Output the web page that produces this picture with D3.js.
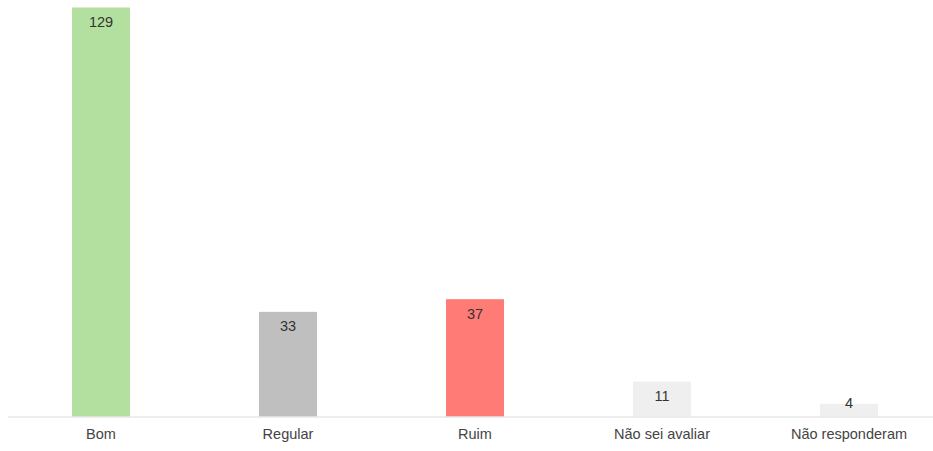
<!DOCTYPE html>
<html>
<head>
<meta charset="utf-8">
<script src="https://cdn.jsdelivr.net/npm/d3@7"></script>
<style>
  html, body { margin: 0; padding: 0; background: #fff; }
  svg { display: block; font-family: "Liberation Sans", Arial, Helvetica, sans-serif; }
</style>
</head>
<body>
<svg id="chart" width="933" height="451"></svg>
<script>
// Survey answers and counts
const categories = ["Bom", "Regular", "Ruim", "Não sei avaliar", "Não responderam"];
const counts = [129, 33, 37, 11, 4];
const barColors = ["#b4e09f", "#bfbfbf", "#ff7b76", "#efefef", "#efefef"];

const width = 933, height = 451;
const baseline = 416.5;
const fontSize = 14.5;

const svg = d3.select("#chart");

const x = d3.scaleBand()
  .domain(categories)
  .range([7.5, 942.5])
  .paddingInner(0.69)
  .paddingOuter(0.345);

const y = d3.scaleLinear()
  .domain([0, 129])
  .range([baseline, 7.5]);

const data = categories.map((c, i) => ({ cat: c, value: counts[i], color: barColors[i] }));

// Bars
svg.append("g")
  .selectAll("rect")
  .data(data)
  .join("rect")
  .attr("x", d => x(d.cat))
  .attr("y", d => y(d.value))
  .attr("width", x.bandwidth())
  .attr("height", d => baseline - y(d.value))
  .attr("fill", d => d.color);

// Value labels, just inside the top of each bar
svg.append("g")
  .selectAll("text")
  .data(data)
  .join("text")
  .attr("x", d => x(d.cat) + x.bandwidth() / 2)
  .attr("y", d => Math.min(y(d.value) + 19.5, baseline - 8.5))
  .attr("text-anchor", "middle")
  .attr("font-size", fontSize)
  .attr("fill", "#333")
  .text(d => d.value);

// Category axis
const axis = svg.append("g")
  .attr("transform", `translate(0,${baseline})`)
  .call(d3.axisBottom(x).tickSize(0).tickPadding(12));
axis.select(".domain").remove();
axis.selectAll("text")
  .attr("font-size", fontSize)
  .attr("fill", "#444")
  .style("font-family", "\"Liberation Sans\", Arial, Helvetica, sans-serif");

svg.append("line")
  .attr("x1", 8).attr("x2", width)
  .attr("y1", baseline + 0.5).attr("y2", baseline + 0.5)
  .attr("stroke", "#dcdcdc")
  .attr("stroke-width", 1);
</script>
</body>
</html>
